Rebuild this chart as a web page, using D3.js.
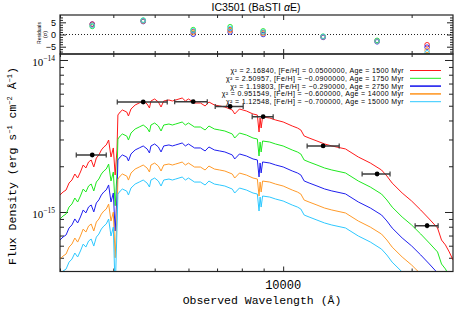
<!doctype html>
<html>
<head>
    <style>
        body { margin: 0; background: #fff; }
        svg { display: block; }
        .tick line { stroke: #222; stroke-width: 1; }
        .frame { fill: none; stroke: #222; stroke-width: 1.2; }
        .spec { fill: none; stroke-width: 1; }
        .mono { font-family: "Courier New", "Liberation Mono", monospace; }
    </style>
    <script src="https://d3js.org/d3.v7.min.js"></script>
</head>
<body>
    <svg width="463" height="309"></svg>
    <script>
        // model spectra (flux in units of 1e-15 erg/s/cm2/A)
        var wave = [3000, 3050, 3100, 3150, 3200, 3250, 3300, 3350, 3400, 3450,
            3500, 3550, 3600, 3650, 3700, 3750, 3800, 3850, 3900, 3950,
            4000, 4040, 4080, 4100, 4150, 4200, 4300, 4340, 4400, 4500,
            4600, 4700, 4800, 4861, 4900, 5000, 5100, 5175, 5250, 5400,
            5500, 5600, 5700, 5800, 5900, 6000, 6200, 6400, 6563, 6700,
            6900, 7100, 7300, 7600, 7700, 7900, 8200, 8500, 8700, 8780,
            8830, 8880, 8950, 9300, 9600, 10000, 10500, 10800, 11000, 11200,
            11500, 12000, 12500, 13000, 14000, 15000, 16000, 17000, 17500, 18000,
            19000, 20000, 21000, 22000, 23000, 23500, 24000, 24500, 25000];

        var fluxRed = [1.293, 1.354, 1.395, 1.551, 1.624, 1.778, 1.674, 1.833, 2.038, 1.948,
            2.133, 2.198, 1.978, 2.266, 2.371, 2.558, 2.677, 2.760, 2.976, 2.300,
            2.637, 1.752, 2.558, 4.347, 4.548, 4.690, 4.548, 4.281, 4.760, 5.057,
            5.213, 5.374, 5.134, 4.833, 5.374, 5.539, 5.293, 4.907, 5.374, 5.456,
            5.374, 5.456, 5.539, 5.623, 5.374, 5.539, 5.213, 5.213, 4.983, 5.293,
            5.057, 4.983, 4.907, 4.690, 4.413, 4.760, 4.618, 4.413, 4.347, 3.360,
            4.153, 3.570, 4.217, 4.153, 4.030, 3.910, 3.680, 3.570, 3.464, 3.162,
            3.068, 2.931, 2.803, 2.719, 2.598, 2.300, 2.101, 1.889, 1.725, 1.551,
            1.334, 1.181, 1.031, 0.899, 0.785, 0.654, 0.607, 0.546, 0.483];

        var fluxGreen = [0.899, 0.941, 0.970, 1.078, 1.129, 1.236, 1.163, 1.274, 1.416, 1.354,
            1.482, 1.528, 1.375, 1.575, 1.648, 1.778, 1.861, 1.918, 2.068, 1.599,
            1.833, 1.100, 1.778, 3.021, 3.161, 3.260, 3.161, 2.975, 3.308, 3.515,
            3.623, 3.735, 3.568, 3.359, 3.735, 3.850, 3.679, 3.410, 3.735, 3.792,
            3.735, 3.792, 3.850, 3.908, 3.735, 3.850, 3.623, 3.623, 3.463, 3.679,
            3.515, 3.463, 3.410, 3.260, 3.067, 3.308, 3.210, 3.067, 3.021, 2.335,
            2.886, 2.481, 2.931, 2.886, 2.801, 2.717, 2.558, 2.481, 2.407, 2.198,
            2.132, 2.037, 1.948, 1.890, 1.806, 1.599, 1.460, 1.313, 1.199, 1.078,
            0.927, 0.821, 0.717, 0.625, 0.546, 0.455, 0.422, 0.379, 0.336];

        var fluxBlue = [0.654, 0.685, 0.706, 0.785, 0.822, 0.900, 0.847, 0.927, 1.031, 0.986,
            1.079, 1.112, 1.001, 1.147, 1.200, 1.294, 1.355, 1.397, 1.506, 1.164,
            1.334, 0.750, 1.294, 2.200, 2.301, 2.373, 2.301, 2.166, 2.409, 2.559,
            2.638, 2.719, 2.598, 2.445, 2.719, 2.803, 2.678, 2.483, 2.719, 2.761,
            2.719, 2.761, 2.803, 2.845, 2.719, 2.803, 2.638, 2.638, 2.521, 2.678,
            2.559, 2.521, 2.483, 2.373, 2.233, 2.409, 2.337, 2.233, 2.200, 1.700,
            2.101, 1.806, 2.134, 2.101, 2.039, 1.978, 1.862, 1.806, 1.753, 1.600,
            1.552, 1.483, 1.418, 1.376, 1.315, 1.164, 1.063, 0.956, 0.873, 0.785,
            0.675, 0.598, 0.522, 0.455, 0.397, 0.331, 0.307, 0.276, 0.244];

        var fluxOrange = [0.490, 0.513, 0.529, 0.588, 0.616, 0.674, 0.634, 0.695, 0.772, 0.738,
            0.808, 0.833, 0.750, 0.859, 0.899, 0.969, 1.015, 1.046, 1.128, 0.872,
            0.999, 0.500, 0.969, 1.648, 1.724, 1.778, 1.724, 1.622, 1.804, 1.917,
            1.976, 2.037, 1.946, 1.832, 2.037, 2.099, 2.006, 1.860, 2.037, 2.068,
            2.037, 2.068, 2.099, 2.131, 2.037, 2.099, 1.976, 1.976, 1.889, 2.006,
            1.917, 1.889, 1.860, 1.778, 1.673, 1.804, 1.750, 1.673, 1.648, 1.273,
            1.574, 1.353, 1.598, 1.574, 1.527, 1.482, 1.395, 1.353, 1.313, 1.198,
            1.163, 1.111, 1.062, 1.031, 0.985, 0.872, 0.796, 0.716, 0.654, 0.588,
            0.506, 0.448, 0.391, 0.341, 0.298, 0.248, 0.230, 0.207, 0.183];

        var fluxCyan = [0.390, 0.409, 0.421, 0.468, 0.490, 0.537, 0.506, 0.554, 0.615, 0.588,
            0.644, 0.664, 0.597, 0.684, 0.716, 0.773, 0.808, 0.834, 0.899, 0.695,
            0.796, 0.300, 0.773, 1.313, 1.373, 1.416, 1.373, 1.293, 1.438, 1.527,
            1.574, 1.623, 1.550, 1.460, 1.623, 1.673, 1.598, 1.482, 1.623, 1.648,
            1.623, 1.648, 1.673, 1.698, 1.623, 1.673, 1.574, 1.574, 1.505, 1.598,
            1.527, 1.505, 1.482, 1.416, 1.333, 1.438, 1.395, 1.333, 1.313, 1.015,
            1.254, 1.078, 1.274, 1.254, 1.217, 1.181, 1.111, 1.078, 1.046, 0.955,
            0.927, 0.885, 0.847, 0.821, 0.785, 0.695, 0.635, 0.570, 0.521, 0.468,
            0.403, 0.357, 0.311, 0.271, 0.237, 0.198, 0.183, 0.165, 0.146];

        // observed photometry (u g r i z J H K)
        var photWave = [3570, 4700, 6155, 7512, 8977, 12406, 16600, 21740];
        var photLo = [3275, 4086, 5570, 6930, 8460, 11380, 15310, 20380];
        var photHi = [3850, 5350, 6640, 8060, 9475, 13530, 17800, 23070];
        var photFlux = [2.371, 5.293, 5.318, 4.943, 4.237, 2.719, 1.778, 0.813];
        var photErr = [0.07, 0.10, 0.08, 0.07, 0.06, 0.06, 0.05, 0.03];

        // residuals in sigma, one list per model
        var resRed = [4.3, 5.6, 1.2, 2.0, 0.8, -0.9, -2.6, -4.2];
        var resGreen = [3.3, 5.9, 2.0, 3.2, 1.5, -0.7, -2.4, -8.5];
        var resBlue = [4.2, 5.3, 0.1, 1.0, 0.0, -1.2, -3.0, -5.2];
        var resOrange = [3.9, 5.5, 0.7, 1.6, 0.4, -1.0, -2.8, -6.5];
        var resCyan = [3.6, 5.8, 1.5, 2.5, 1.0, -0.8, -2.7, -7.5];

        var chi2 = ["2.16840", "2.50957", "1.19803", "0.951549", "1.12548"];
        var feh = ["0.0500000", "\u22120.0900000", "\u22120.290000", "\u22120.600000", "\u22120.700000"];
        var ages = [1500, 1750, 2750, 14000, 15000];
        var colors = ["#ff1a1a", "#1fe81f", "#1f1fee", "#ff9a2a", "#2ec8ff"];

        var models = [
            { flux: fluxRed, res: resRed },
            { flux: fluxGreen, res: resGreen },
            { flux: fluxBlue, res: resBlue },
            { flux: fluxOrange, res: resOrange },
            { flux: fluxCyan, res: resCyan }
        ];

        var svg = d3.select("svg");
        var left = 60, right = 453;
        var resTop = 15, resBottom = 54, mainTop = 54, mainBottom = 271.5;

        var x = d3.scaleLog().domain([3000, 25000]).range([left, right]);
        var y = d3.scaleLog().domain([0.406, 10.95]).range([mainBottom, mainTop]);
        var yRes = d3.scaleLinear().domain([-8, 8]).range([resBottom, resTop]);

        var defs = svg.append("defs");
        defs.append("clipPath").attr("id", "clipMain").append("rect")
            .attr("x", left).attr("y", mainTop).attr("width", right - left).attr("height", mainBottom - mainTop);
        defs.append("clipPath").attr("id", "clipRes").append("rect")
            .attr("x", left).attr("y", resTop).attr("width", right - left).attr("height", resBottom - resTop);

        function isDecade(v) { return Math.abs(Math.log10(v) - Math.round(Math.log10(v))) < 1e-6; }

        // ticks on all four sides, pointing inward
        function addTicks(axis, tx, ty) {
            svg.append("g")
                .attr("transform", "translate(" + tx + "," + ty + ")")
                .call(axis)
                .call(function (g) { g.select(".domain").remove(); g.selectAll("text").remove(); });
        }
        var xMajor = x.ticks().filter(isDecade);
        var xMinor = x.ticks().filter(function (v) { return !isDecade(v); });
        [[resTop, resBottom], [mainTop, mainBottom]].forEach(function (p) {
            addTicks(d3.axisBottom(x).tickValues(xMajor).tickSize(-5), 0, p[1]);
            addTicks(d3.axisBottom(x).tickValues(xMinor).tickSize(-3), 0, p[1]);
            addTicks(d3.axisTop(x).tickValues(xMajor).tickSize(-5), 0, p[0]);
            addTicks(d3.axisTop(x).tickValues(xMinor).tickSize(-3), 0, p[0]);
        });
        var yMajor = y.ticks().filter(isDecade);
        var yMinor = y.ticks().filter(function (v) { return !isDecade(v); });
        addTicks(d3.axisLeft(y).tickValues(yMajor).tickSize(-8), left, 0);
        addTicks(d3.axisLeft(y).tickValues(yMinor).tickSize(-4), left, 0);
        addTicks(d3.axisRight(y).tickValues(yMajor).tickSize(-8), right, 0);
        addTicks(d3.axisRight(y).tickValues(yMinor).tickSize(-4), right, 0);
        var rMajor = [-5, 0, 5];
        var rMinor = d3.range(-7, 8).filter(function (v) { return v % 5 !== 0; });
        addTicks(d3.axisLeft(yRes).tickValues(rMajor).tickSize(-6), left, 0);
        addTicks(d3.axisLeft(yRes).tickValues(rMinor).tickSize(-3), left, 0);
        addTicks(d3.axisRight(yRes).tickValues(rMajor).tickSize(-6), right, 0);
        addTicks(d3.axisRight(yRes).tickValues(rMinor).tickSize(-3), right, 0);

        // model spectra
        var line = d3.line()
            .x(function (d) { return x(d[0]); })
            .y(function (d) { return y(d[1]); });
        var specG = svg.append("g").attr("clip-path", "url(#clipMain)");
        models.forEach(function (m, k) {
            specG.append("path")
                .datum(wave.map(function (w, i) { return [w, m.flux[i]]; }))
                .attr("class", "spec")
                .attr("stroke", colors[k])
                .attr("d", line);
        });

        // photometry with error bars
        var ptG = svg.append("g").attr("clip-path", "url(#clipMain)");
        photWave.forEach(function (w, i) {
            var py = y(photFlux[i]);
            ptG.append("line").attr("x1", x(photLo[i])).attr("x2", x(photHi[i]))
                .attr("y1", py).attr("y2", py).attr("stroke", "#3a3a3a").attr("stroke-width", 1.5);
            [photLo[i], photHi[i]].forEach(function (e) {
                ptG.append("line").attr("x1", x(e)).attr("x2", x(e))
                    .attr("y1", py - 2.5).attr("y2", py + 2.5).attr("stroke", "#3a3a3a").attr("stroke-width", 1.2);
            });
            ptG.append("line").attr("x1", x(w)).attr("x2", x(w))
                .attr("y1", y(photFlux[i] - photErr[i])).attr("y2", y(photFlux[i] + photErr[i]))
                .attr("stroke", "#3a3a3a").attr("stroke-width", 1.2);
            ptG.append("circle").attr("cx", x(w)).attr("cy", py).attr("r", 2.4).attr("fill", "#000");
        });

        // residual panel
        var resG = svg.append("g").attr("clip-path", "url(#clipRes)");
        resG.append("line").attr("x1", left).attr("x2", right)
            .attr("y1", yRes(0)).attr("y2", yRes(0))
            .attr("stroke", "#222").attr("stroke-dasharray", "1,2");
        models.forEach(function (m, k) {
            m.res.forEach(function (r, i) {
                resG.append("circle").attr("cx", x(photWave[i])).attr("cy", yRes(r)).attr("r", 2.3)
                    .attr("fill", "none").attr("stroke", colors[k]).attr("stroke-width", 0.9);
            });
        });

        // frames
        svg.append("rect").attr("class", "frame").attr("x", left).attr("y", resTop)
            .attr("width", right - left).attr("height", resBottom - resTop);
        svg.append("rect").attr("class", "frame").attr("x", left).attr("y", mainTop)
            .attr("width", right - left).attr("height", mainBottom - mainTop);

        // tick labels
        yMajor.forEach(function (v) {
            var t = svg.append("text").attr("x", 55).attr("y", y(v) + 6)
                .attr("text-anchor", "end").style("font-family", "Liberation Serif, serif").style("font-size", "11px");
            t.append("tspan").text("10");
            t.append("tspan").attr("dy", -5).style("font-size", "7.5px").text("\u2212" + (15 - Math.round(Math.log10(v))));
        });
        rMajor.forEach(function (v) {
            svg.append("text").attr("x", 56).attr("y", yRes(v) + 3.3)
                .attr("text-anchor", "end").style("font-family", "Liberation Sans, sans-serif").style("font-size", "9px")
                .text(v < 0 ? "\u2212" + (-v) : v);
        });
        xMajor.forEach(function (v) {
            svg.append("text").attr("class", "mono").attr("x", x(v)).attr("y", 289)
                .attr("text-anchor", "middle").style("font-size", "12px").text(v);
        });

        // axis titles
        svg.append("text").attr("class", "mono").attr("x", 262).attr("y", 304)
            .attr("text-anchor", "middle").style("font-size", "11.5px").text("Observed Wavelength (\u00c5)");
        var yl = svg.append("text").attr("class", "mono")
            .attr("transform", "translate(16,166) rotate(-90)")
            .attr("text-anchor", "middle").style("font-size", "11.5px");
        yl.append("tspan").text("Flux Density (erg s");
        yl.append("tspan").attr("dy", -4).style("font-size", "7px").text("\u22121");
        yl.append("tspan").attr("dy", 4).text(" cm");
        yl.append("tspan").attr("dy", -4).style("font-size", "7px").text("\u22122");
        yl.append("tspan").attr("dy", 4).text(" \u00c5");
        yl.append("tspan").attr("dy", -4).style("font-size", "7px").text("\u22121");
        yl.append("tspan").attr("dy", 4).text(")");

        svg.append("text").attr("transform", "translate(41,33) rotate(-90)")
            .attr("text-anchor", "middle").style("font-family", "Liberation Sans, sans-serif").style("font-size", "5px")
            .text("Residuals");
        svg.append("text").attr("transform", "translate(46.5,34.5) rotate(-90)")
            .attr("text-anchor", "middle").style("font-family", "Liberation Sans, sans-serif").style("font-size", "5.5px")
            .text("(\u03c3)");

        // title
        var title = svg.append("text").attr("x", 256).attr("y", 11)
            .attr("text-anchor", "middle").style("font-family", "Liberation Sans, sans-serif").style("font-size", "10.5px");
        title.append("tspan").text("IC3501 (BaSTI ");
        title.append("tspan").style("font-style", "italic").text("\u03b1");
        title.append("tspan").text("E)");

        // legend
        models.forEach(function (m, k) {
            var ly = 70.5 + k * 7.8;
            svg.append("text").attr("x", 404).attr("y", ly + 2.5)
                .attr("text-anchor", "end").style("font-family", "Liberation Sans, sans-serif").style("font-size", "7px")
                .style("letter-spacing", "0.35px")
                .text("\u03c7\u00b2 = " + chi2[k] + ", [Fe/H] = " + feh[k] + ", Age = " + ages[k] + " Myr");
            svg.append("line").attr("x1", 410).attr("x2", 441).attr("y1", ly).attr("y2", ly)
                .attr("stroke", colors[k]).attr("stroke-width", k === 2 || k === 3 ? 1.6 : 1);
        });
    </script>
</body>
</html>
